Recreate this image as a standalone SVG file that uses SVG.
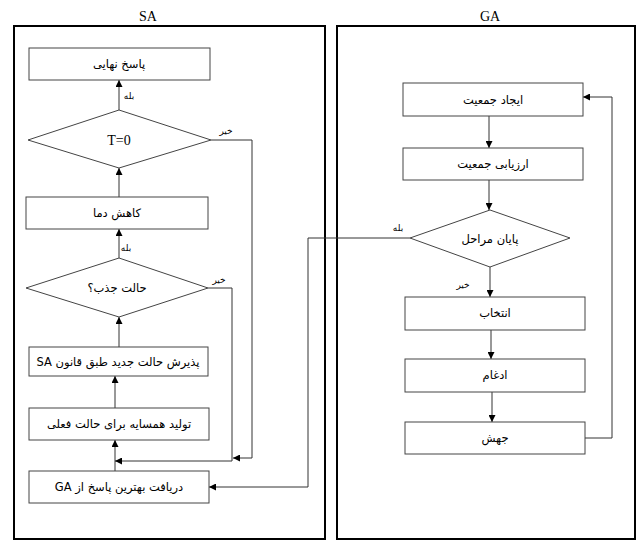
<svg xmlns="http://www.w3.org/2000/svg" width="638" height="540" viewBox="0 0 638 540">
<style>
.frame{fill:none;stroke:#000;stroke-width:2}
.box{fill:#fff;stroke:#444;stroke-width:1}
.ln{fill:none;stroke:#333;stroke-width:1}
.t{font-family:"Liberation Serif",serif;font-size:14px;fill:#000;text-anchor:middle;dominant-baseline:central}
.fa{font-family:"DejaVu Sans","Liberation Serif",serif;font-size:11.5px;fill:#000;text-anchor:middle;dominant-baseline:central;direction:rtl}
.lbl{font-family:"DejaVu Sans",serif;font-size:9px;fill:#000;text-anchor:middle;dominant-baseline:central;direction:rtl}
.title{font-family:"Liberation Serif",serif;font-size:14px;fill:#000;text-anchor:middle}
</style>
<defs>
<marker id="ah" viewBox="0 0 10 10" refX="10" refY="5" markerWidth="7" markerHeight="7" markerUnits="userSpaceOnUse" orient="auto">
<path d="M0,0 L10,5 L0,10 z" fill="#000"/>
</marker>
</defs>
<rect width="638" height="540" fill="#fff"/>
<g id="frames">
<text class="title" x="148" y="21">SA</text>
<rect class="frame" x="14" y="26" width="311" height="513"/>
<text class="title" x="490" y="21">GA</text>
<rect class="frame" x="337" y="26" width="298" height="513"/>
</g>
<g id="connectors">
<line class="ln" x1="119" y1="110" x2="119" y2="80" marker-end="url(#ah)"/>
<line class="ln" x1="119" y1="197" x2="119" y2="168" marker-end="url(#ah)"/>
<line class="ln" x1="119" y1="258" x2="119" y2="229" marker-end="url(#ah)"/>
<line class="ln" x1="119" y1="347" x2="119" y2="317" marker-end="url(#ah)"/>
<line class="ln" x1="115" y1="408" x2="115" y2="376" marker-end="url(#ah)"/>
<line class="ln" x1="115" y1="471" x2="115" y2="440" marker-end="url(#ah)"/>
<polyline class="ln" points="211,140 252,140 252,458 233,458" marker-end="url(#ah)"/>
<polyline class="ln" points="208,288 232,288 232,461 115,461" marker-end="url(#ah)"/>
<polyline class="ln" points="410,238 308,238 308,487 209,487" marker-end="url(#ah)"/>
<line class="ln" x1="489" y1="116" x2="489" y2="148" marker-end="url(#ah)"/>
<line class="ln" x1="489" y1="180" x2="489" y2="210" marker-end="url(#ah)"/>
<line class="ln" x1="490" y1="267" x2="490" y2="297" marker-end="url(#ah)"/>
<line class="ln" x1="491" y1="330" x2="491" y2="359" marker-end="url(#ah)"/>
<line class="ln" x1="492" y1="392" x2="492" y2="422" marker-end="url(#ah)"/>
<polyline class="ln" points="585,438 612,438 612,97 583,97" marker-end="url(#ah)"/>
<text class="lbl" x="129" y="96">بله</text>
<text class="lbl" x="226" y="131">خیر</text>
<text class="lbl" x="126" y="248">بله</text>
<text class="lbl" x="219" y="280">خیر</text>
<text class="lbl" x="398" y="228">بله</text>
<text class="lbl" x="463" y="285">خیر</text>
</g>
<g id="sa-final">
<rect class="box" x="29" y="48" width="181" height="32"/>
<text class="fa" x="119" y="64">پاسخ نهایی</text>
</g>
<g id="sa-t0">
<polygon class="box" points="119,110 211,140 119,168 28,140"/>
<text class="t" x="119" y="140">T=0</text>
</g>
<g id="sa-cool">
<rect class="box" x="26" y="197" width="182" height="32"/>
<text class="fa" x="117" y="213">کاهش دما</text>
</g>
<g id="sa-accept-q">
<polygon class="box" points="119,258 208,288 119,317 26,288"/>
<text class="fa" x="117" y="288">حالت جذب؟</text>
</g>
<g id="sa-accept">
<rect class="box" x="29" y="347" width="179" height="29"/>
<text class="fa" x="118" y="362">پذیرش حالت جدید طبق قانون SA</text>
</g>
<g id="sa-neighbor">
<rect class="box" x="29" y="408" width="180" height="32"/>
<text class="fa" x="119" y="424">تولید همسایه برای حالت فعلی</text>
</g>
<g id="sa-receive">
<rect class="box" x="29" y="471" width="180" height="32"/>
<text class="fa" x="119" y="487">دریافت بهترین پاسخ از GA</text>
</g>
<g id="ga-init">
<rect class="box" x="403" y="83" width="180" height="33"/>
<text class="fa" x="493" y="100">ایجاد جمعیت</text>
</g>
<g id="ga-eval">
<rect class="box" x="403" y="148" width="180" height="32"/>
<text class="fa" x="493" y="164">ارزیابی جمعیت</text>
</g>
<g id="ga-end">
<polygon class="box" points="490,210 570,238 490,267 410,238"/>
<text class="fa" x="490" y="239">پایان مراحل</text>
</g>
<g id="ga-select">
<rect class="box" x="405" y="297" width="180" height="33"/>
<text class="fa" x="495" y="313">انتخاب</text>
</g>
<g id="ga-cross">
<rect class="box" x="405" y="359" width="180" height="33"/>
<text class="fa" x="495" y="375">ادغام</text>
</g>
<g id="ga-mut">
<rect class="box" x="405" y="422" width="180" height="32"/>
<text class="fa" x="495" y="438">جهش</text>
</g>
</svg>
